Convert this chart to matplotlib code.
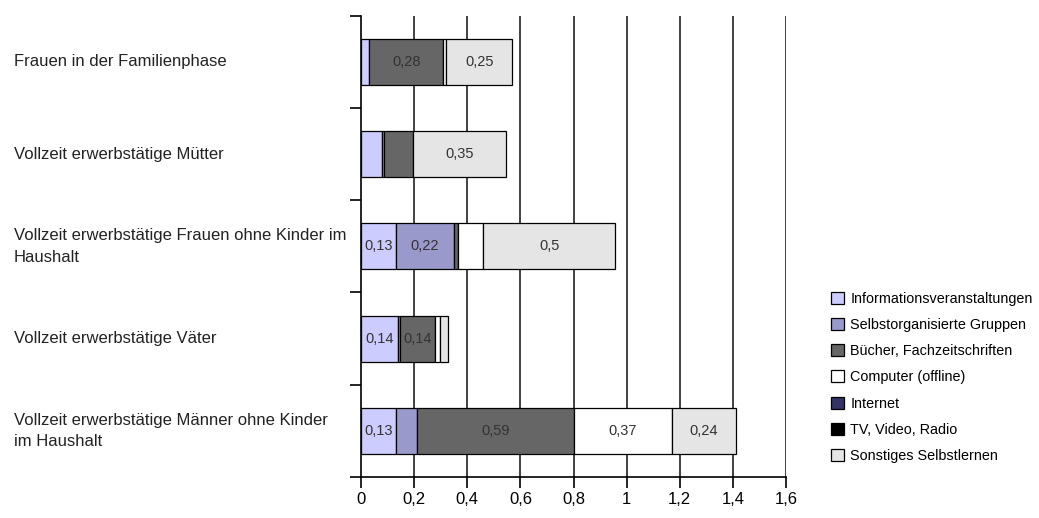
import matplotlib
matplotlib.use("Agg")
import matplotlib.pyplot as plt
from matplotlib.patches import Patch
from matplotlib.transforms import blended_transform_factory

plt.rcParams['font.family'] = ['Liberation Sans', 'DejaVu Sans']

# Gruppen (von oben nach unten)
groups = [
    "Frauen in der Familienphase",
    "Vollzeit erwerbstätige Mütter",
    "Vollzeit erwerbstätige Frauen ohne Kinder im\nHaushalt",
    "Vollzeit erwerbstätige Väter",
    "Vollzeit erwerbstätige Männer ohne Kinder\nim Haushalt",
]

series_names = [
    "Informationsveranstaltungen",
    "Selbstorganisierte Gruppen",
    "Bücher, Fachzeitschriften",
    "Computer (offline)",
    "Internet",
    "TV, Video, Radio",
    "Sonstiges Selbstlernen",
]

info = [0.03, 0.08, 0.13, 0.14, 0.13]
selbst = [0.0, 0.007, 0.22, 0.005, 0.08]
buecher = [0.28, 0.108, 0.015, 0.135, 0.59]
computer = [0.01, 0.0, 0.093, 0.018, 0.37]
internet = [0.0, 0.0, 0.0, 0.0, 0.0]
tv = [0.0, 0.0, 0.0, 0.0, 0.0]
sonstiges = [0.25, 0.35, 0.5, 0.03, 0.24]

x_ticks = [0, 0.2, 0.4, 0.6, 0.8, 1.0, 1.2, 1.4, 1.6]

series = [info, selbst, buecher, computer, internet, tv, sonstiges]
colors = ["#ccccff", "#9999cc", "#666666", "#ffffff", "#333366", "#000000", "#e5e5e5"]

fig = plt.figure(figsize=(10.39, 5.18), dpi=100)
ax = fig.add_axes([361 / 1039, 41 / 518, 425 / 1039, 461.3 / 518])

ypos = list(range(len(groups)))
left = [0.0] * len(groups)
for values, color in zip(series, colors):
    bars = ax.barh(ypos, values, left=left, height=0.5, color=color,
                   edgecolor="black", linewidth=0.9, zorder=3)
    for bar, v in zip(bars, values):
        if v <= 0:
            bar.set_visible(False)
        elif v >= 0.12:
            # Beschriftung auf zwei Stellen gerundet, mit Dezimalkomma
            txt = f"{v:.2f}".rstrip("0").replace(".", ",")
            ax.text(bar.get_x() + v / 2, bar.get_y() + bar.get_height() / 2, txt,
                    ha="center", va="center", fontsize=10.5, color="#333333", zorder=4)
    left = [l + v for l, v in zip(left, values)]

ax.set_xlim(0, 1.6)
ax.set_ylim(len(groups) - 0.5, -0.5)
ax.set_xticks(x_ticks)
ax.set_xticklabels([("%g" % t).replace(".", ",") for t in x_ticks], fontsize=12)
ax.set_yticks([])
ax.set_yticks([i - 0.5 for i in range(len(groups) + 1)], minor=True)
ax.tick_params(axis="y", which="minor", length=8, width=1.2, direction="out")
ax.tick_params(axis="x", length=8, width=1.2, direction="out", pad=3)

for t in x_ticks[1:]:
    ax.axvline(t, color="#333333", linewidth=1.3, zorder=1)

for side in ["top", "right"]:
    ax.spines[side].set_visible(False)
for side in ["left", "bottom"]:
    ax.spines[side].set_linewidth(1.2)

trans = blended_transform_factory(fig.transFigure, ax.transData)
for y, g in zip(ypos, groups):
    ax.text(14 / 1039, y, g, transform=trans, ha="left", va="center",
            fontsize=12, color="#222222", linespacing=1.55)

handles = [Patch(facecolor=c, edgecolor="black", linewidth=0.9) for c in colors]
fig.legend(handles, series_names, loc="upper left",
           bbox_to_anchor=(831 / 1039, 1 - 292 / 518), frameon=False,
           fontsize=10.4, handlelength=0.9, handleheight=0.9,
           handletextpad=0.45, labelspacing=0.84, borderpad=0, borderaxespad=0)

fig.savefig("out.png", dpi=100)
